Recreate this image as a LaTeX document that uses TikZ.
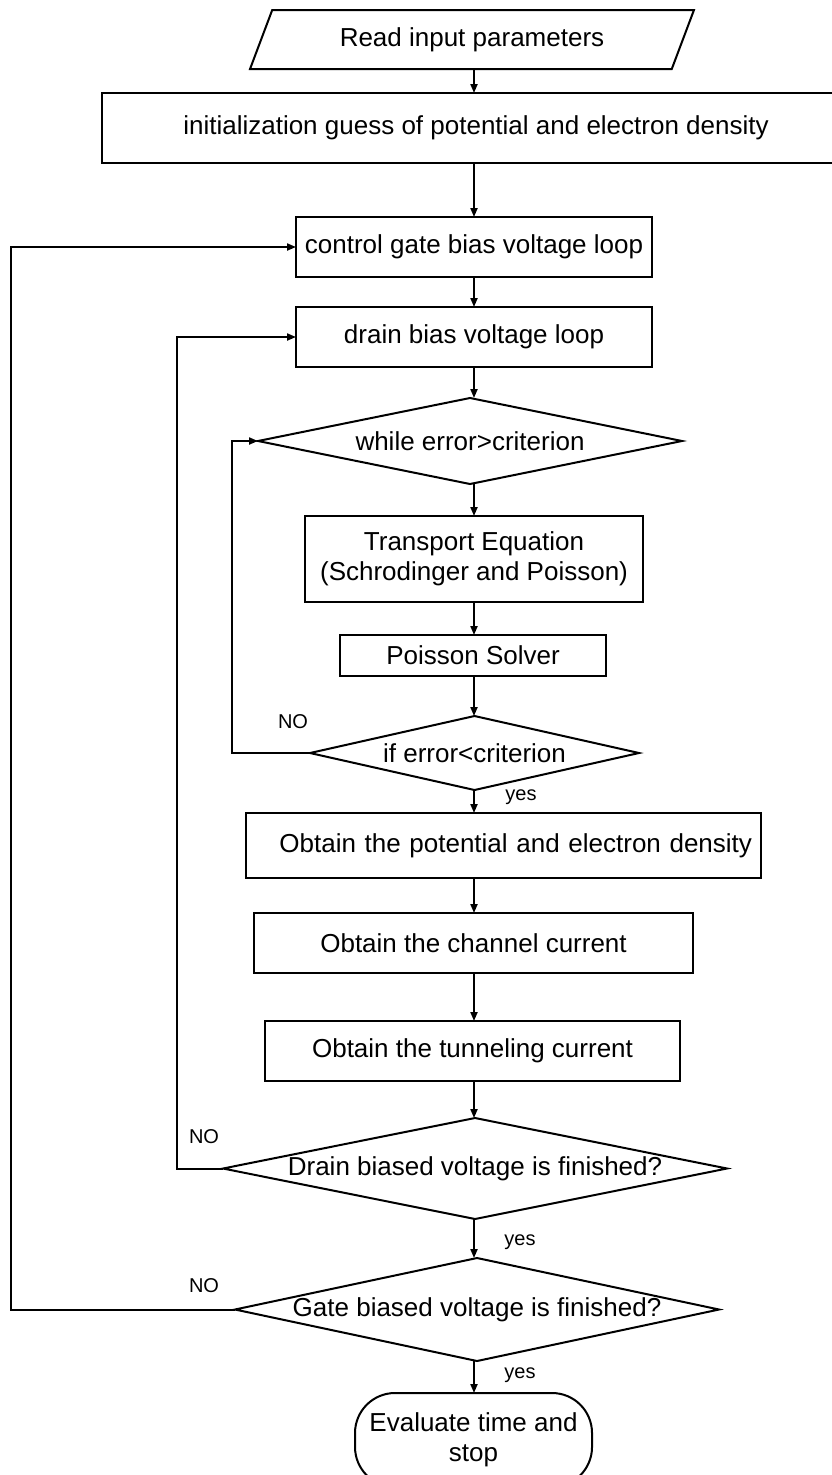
\documentclass[tikz,border=0pt]{standalone}
\usepackage{fontspec}
\setmainfont{Liberation Sans}
\usepackage{tikz}
\usetikzlibrary{positioning,calc,shapes.geometric,arrows.meta}

\begin{document}
\begin{tikzpicture}[
x=1pt, y=-1pt,
line width=2pt, >={Triangle[length=9pt,width=7pt]},
every node/.style={font=\fontsize{26}{30}\selectfont, outer sep=0pt},
procbox/.style={rectangle, draw, inner sep=3pt, align=center},
decision/.style={diamond, draw, inner sep=0pt},
ioshape/.style={trapezium, draw, trapezium left angle=64, trapezium right angle=116,
  trapezium stretches=true, minimum width=445pt, minimum height=59pt},
terminal/.style={rectangle, draw, rounded corners=40pt, align=center,
  minimum width=237pt, minimum height=94pt},
lbl/.style={inner sep=0pt, font=\fontsize{20}{24}\selectfont},
]
\useasboundingbox (0,0) rectangle (832,1475);
%Nodes
\node[ioshape]   (read)                                           at (472,39.5) {Read input parameters};
\node[procbox]   (init)      [below=24pt of read, xshift=4pt, minimum width=748pt, minimum height=70pt] {initialization guess of potential and electron density};
\node[procbox]   (gateloop)  [below=54pt of init, xshift=-2pt, minimum width=356pt, minimum height=60pt] {control gate bias voltage loop};
\node[procbox]   (drainloop) [below=30pt of gateloop, minimum width=356pt, minimum height=60pt] {drain bias voltage loop};
\node[decision]  (whileq)    [below=31pt of drainloop, xshift=-4pt, aspect=4.93, minimum width=424pt, minimum height=86pt] {while error>criterion};
\node[procbox]   (transport) [below=32pt of whileq, xshift=4pt, minimum width=338pt, minimum height=86pt] {Transport Equation\\(Schrodinger and Poisson)};
\node[procbox]   (poisson)   [below=33pt of transport, xshift=-1pt, minimum width=266pt, minimum height=41pt] {Poisson Solver};
\node[decision]  (ifq)       [below=40pt of poisson, xshift=1.5pt, aspect=4.45, minimum width=329pt, minimum height=74pt] {if error<criterion};
\node[procbox]   (potential) [below=23pt of ifq, xshift=29pt, minimum width=515pt, minimum height=65pt, text width=497pt, align=right] {Obtain the potential and electron density};
\node[procbox]   (channel)   [below=35pt of potential, xshift=-30pt, minimum width=439pt, minimum height=60pt] {Obtain the channel current};
\node[procbox]   (tunnel)    [below=48pt of channel, xshift=-1pt, minimum width=415pt, minimum height=60pt] {Obtain the tunneling current};
\node[decision]  (drainq)    [below=37pt of tunnel, xshift=2.5pt, aspect=4.99, minimum width=504pt, minimum height=101pt] {Drain biased voltage is finished?};
\node[decision]  (gateq)     [below=39pt of drainq, xshift=2pt, aspect=4.7, minimum width=484pt, minimum height=103pt] {Gate biased voltage is finished?};
\node[terminal]  (evaluate)  [below=32pt of gateq, xshift=-3.5pt] {Evaluate time and\\stop};

%Labels
\node[lbl] (noif)     at (293,722)  {NO};
\node[lbl] (yesif)    at (521,797)  {yes};
\node[lbl] (nodrain)  at (204,1137) {NO};
\node[lbl] (yesdrain) at (520,1242) {yes};
\node[lbl] (nogate)   at (204,1286) {NO};
\node[lbl] (yesgate)  at (520,1375) {yes};

%Lines
\coordinate (spine)    at (474,0);
\coordinate (whilecol) at (232,0);
\coordinate (draincol) at (177,0);
\coordinate (gatecol)  at (11,0);
\foreach \a/\b in {read/init, init/gateloop, gateloop/drainloop, drainloop/whileq,
  whileq/transport, transport/poisson, poisson/ifq, ifq/potential, potential/channel,
  channel/tunnel, tunnel/drainq, drainq/gateq, gateq/evaluate}
  \draw[->] (\a.south -| spine) -- (\b.north -| spine);
\draw[->] (ifq.west) -- (ifq.west -| whilecol) |- (whileq.west);
\draw[->] (drainq.west) -- (drainq.west -| draincol) |- (drainloop.west);
\draw[->] (gateq.west) -- (gateq.west -| gatecol) |- (gateloop.west);
\end{tikzpicture}
\end{document}
